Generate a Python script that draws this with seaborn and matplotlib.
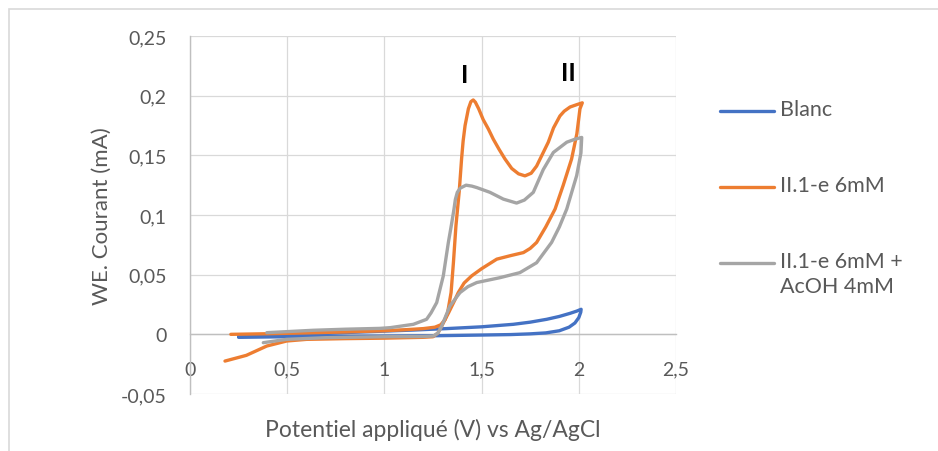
import matplotlib
matplotlib.use("Agg")
import matplotlib.pyplot as plt
from matplotlib.lines import Line2D
from matplotlib.patches import Rectangle
import seaborn as sns
import pandas as pd

# Voltammogrammes (E en V vs Ag/AgCl, I en mA), dans l'ordre du balayage
blanc_E = [0.25, 0.5, 0.75, 1.0, 1.25, 1.5, 1.65, 1.75, 1.83, 1.9, 1.95, 1.98, 2.0, 2.01, 2.012,
           1.99, 1.955, 1.9, 1.835, 1.75, 1.663, 1.5, 1.32, 1.15, 1.0, 0.75, 0.5, 0.25]
blanc_I = [-0.0025, -0.002, -0.0018, -0.0015, -0.0012, -0.0006, -0.0002, 0.0004, 0.0012, 0.003, 0.006, 0.0095, 0.014, 0.0185, 0.021,
           0.0195, 0.0176, 0.015, 0.0126, 0.0102, 0.0084, 0.0063, 0.0048, 0.0036, 0.0027, 0.0012, -0.0003, -0.0015]

ii1e_E = [0.18, 0.29, 0.395, 0.497, 0.6, 0.8, 1.0, 1.2, 1.25, 1.275, 1.295, 1.33, 1.36, 1.38, 1.41, 1.449, 1.5, 1.578,
          1.65, 1.715, 1.75, 1.783, 1.83, 1.878, 1.92, 1.963, 1.99, 2.006, 2.018,
          1.99, 1.955, 1.925, 1.903, 1.87, 1.843, 1.81, 1.783, 1.755, 1.723, 1.69, 1.655, 1.62, 1.59, 1.56,
          1.535, 1.508, 1.485, 1.468, 1.457, 1.445, 1.432, 1.415, 1.405, 1.397, 1.385, 1.368, 1.355, 1.343,
          1.325, 1.31, 1.29, 1.26, 1.2, 1.1, 1.0, 0.8, 0.6, 0.4, 0.21]
ii1e_I = [-0.0224, -0.0176, -0.0098, -0.0056, -0.0042, -0.0036, -0.0032, -0.0025, -0.002, 0.001, 0.007, 0.018, 0.028, 0.035, 0.043, 0.049, 0.055, 0.063,
          0.066, 0.0685, 0.072, 0.077, 0.09, 0.105, 0.125, 0.147, 0.168, 0.189, 0.194,
          0.1925, 0.1905, 0.187, 0.183, 0.173, 0.161, 0.15, 0.141, 0.135, 0.1328, 0.1345, 0.139, 0.147, 0.155, 0.1636,
          0.172, 0.18, 0.189, 0.1945, 0.1964, 0.195, 0.189, 0.175, 0.162, 0.147, 0.12, 0.091, 0.06, 0.035,
          0.018, 0.012, 0.008, 0.006, 0.0048, 0.0038, 0.003, 0.002, 0.0012, 0.0005, 0.0]

acoh_E = [0.377, 0.497, 0.7, 1.0, 1.2, 1.252, 1.275, 1.295, 1.337, 1.389, 1.43, 1.475, 1.595, 1.697, 1.783, 1.86, 1.9, 1.938, 1.989, 2.011, 2.015,
          1.98, 1.938, 1.869, 1.817, 1.766, 1.72, 1.68, 1.612, 1.543, 1.475, 1.45, 1.42, 1.39, 1.375, 1.365, 1.358, 1.345, 1.329, 1.303, 1.269, 1.24, 1.217,
          1.149, 1.03, 0.977, 0.8, 0.634, 0.395]
acoh_I = [-0.007, -0.0042, -0.0028, -0.002, -0.0018, -0.0014, 0.001, 0.007, 0.0238, 0.035, 0.040, 0.0434, 0.0475, 0.0517, 0.06, 0.077, 0.09, 0.105, 0.133, 0.152, 0.165,
          0.1635, 0.161, 0.1524, 0.138, 0.119, 0.1125, 0.11, 0.1133, 0.119, 0.123, 0.1242, 0.125, 0.1225, 0.119, 0.113, 0.105, 0.092, 0.077, 0.049, 0.0266, 0.018, 0.0126,
          0.0084, 0.0056, 0.005, 0.0043, 0.0034, 0.0014]

series = ["Blanc", "II.1-e 6mM", "II.1-e 6mM +\nAcOH 4mM"]
colors = ["#4472C4", "#ED7D31", "#A5A5A5"]

x_ticks = [0, 0.5, 1, 1.5, 2, 2.5]
x_ticklabels = ["0", "0,5", "1", "1,5", "2", "2,5"]
y_ticks = [-0.05, 0, 0.05, 0.1, 0.15, 0.2, 0.25]
y_ticklabels = ["-0,05", "0", "0,05", "0,1", "0,15", "0,2", "0,25"]

frames = []
for name, E, I in zip(series, [blanc_E, ii1e_E, acoh_E], [blanc_I, ii1e_I, acoh_I]):
    frames.append(pd.DataFrame({"E": E, "I": I, "serie": name}))
df = pd.concat(frames, ignore_index=True)

sns.set_style("white")
plt.rcParams["font.family"] = ["Lato", "DejaVu Sans"]

W, H = 938, 452
fig = plt.figure(figsize=(W / 100, H / 100), dpi=100)
ax = fig.add_axes([190 / W, 57 / H, 486 / W, 358 / H])

grey_txt = "#595959"
sns.lineplot(data=df, x="E", y="I", hue="serie", hue_order=series,
             palette=dict(zip(series, colors)), sort=False, estimator=None,
             linewidth=2.4, legend=False, ax=ax)
for ln in ax.lines:
    ln.set_solid_joinstyle("round")
    ln.set_solid_capstyle("round")

ax.set_xlim(0, 2.5)
ax.set_ylim(-0.05, 0.25)
ax.set_xticks(x_ticks)
ax.set_xticklabels(x_ticklabels)
ax.set_yticks(y_ticks)
ax.set_yticklabels(y_ticklabels)
ax.grid(True, color="#d9d9d9", linewidth=0.9)
ax.set_axisbelow(True)

for s in ["top", "right"]:
    ax.spines[s].set_visible(False)
ax.spines["bottom"].set_position(("data", 0))
ax.spines["left"].set_position(("data", 0))
for s in ["bottom", "left"]:
    ax.spines[s].set_color("#bfbfbf")
    ax.spines[s].set_linewidth(1.0)
    ax.spines[s].set_zorder(1.5)

ax.tick_params(axis="x", length=0, pad=19, labelsize=14, labelcolor=grey_txt)
ax.tick_params(axis="y", length=0, pad=17, labelsize=14, labelcolor=grey_txt)

ax.set_xlabel("")
ax.set_ylabel("")
fig.text(433 / W, 1 - 430 / H, "Potentiel appliqué (V) vs Ag/AgCl", ha="center", va="center",
         fontsize=16.5, color=grey_txt)
fig.text(102 / W, 1 - 216 / H, "WE. Courant (mA)", ha="center", va="center",
         rotation=90, fontsize=16, color=grey_txt)

ax.text(1.415, 0.218, "I", ha="center", va="center", fontsize=18, fontweight="bold", color="black")
ax.text(1.944, 0.219, "II", ha="center", va="center", fontsize=18, fontweight="bold", color="black")

# légende à droite
rows_y = [112, 188, 264]
for name, c, ry in zip(series, colors, rows_y):
    fig.add_artist(Line2D([720 / W, 774 / W], [1 - ry / H, 1 - ry / H], color=c,
                          linewidth=2.4, solid_capstyle="round", transform=fig.transFigure))
    fig.text(780 / W, 1 - (ry - 12) / H, name, ha="left", va="top", fontsize=15.5,
             color=grey_txt, linespacing=1.3)

# cadre du graphique
fig.add_artist(Rectangle((9 / W, -0.1), 1.2, 1.1 - 10 / H, transform=fig.transFigure,
                         fill=False, edgecolor="#d9d9d9", linewidth=1.2))

fig.savefig("out.png", dpi=100)
